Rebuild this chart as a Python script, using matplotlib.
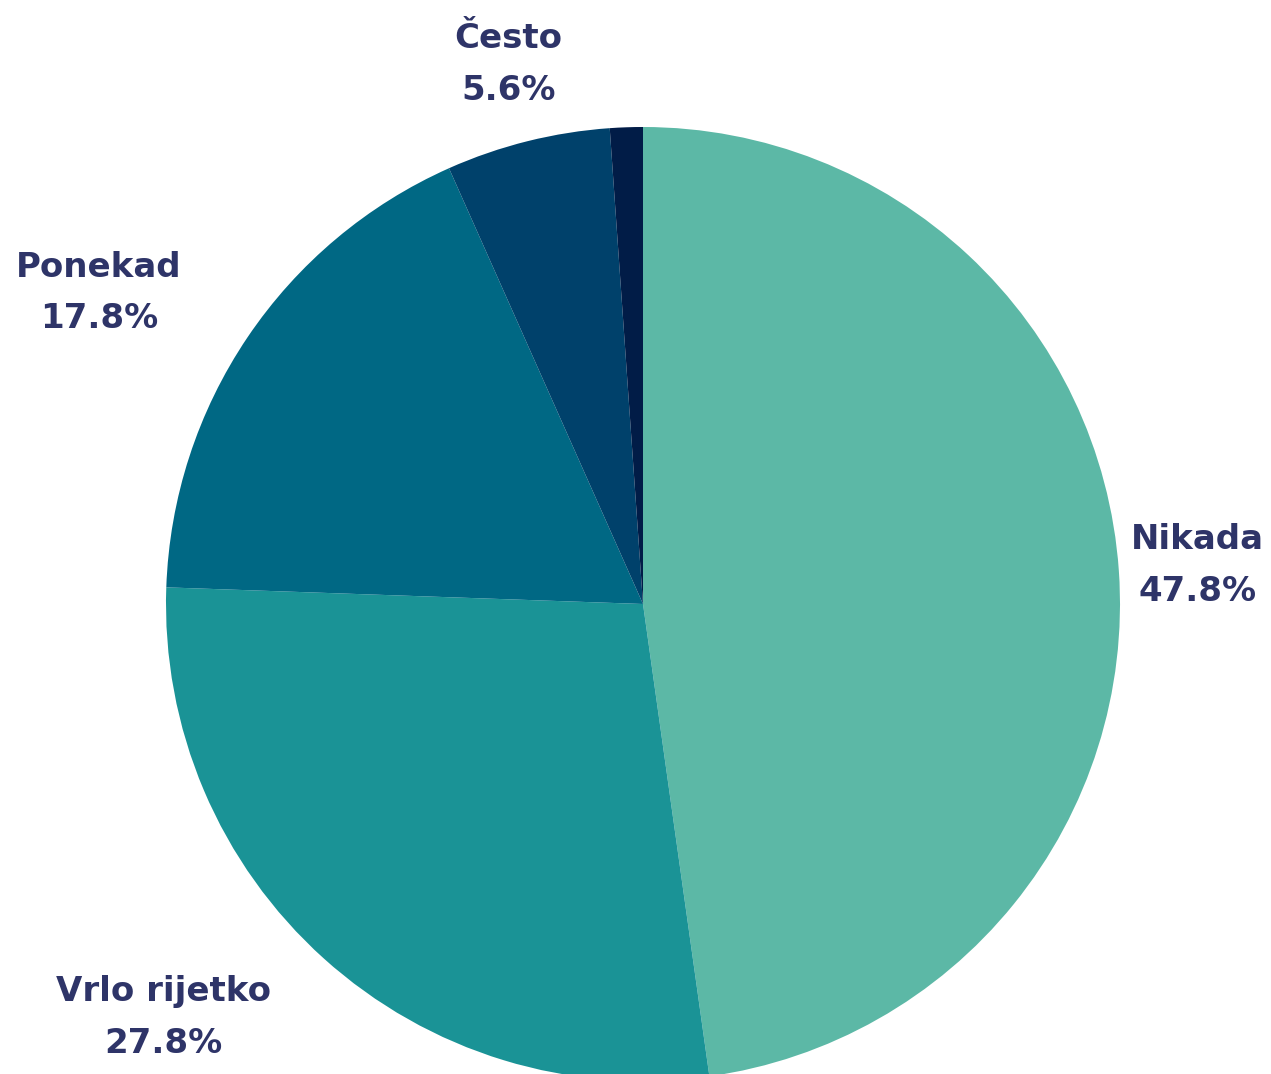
import numpy as np
import matplotlib
matplotlib.use("Agg")
import matplotlib.pyplot as plt

categories = ["Nikada", "Vrlo rijetko", "Ponekad", "Često", "Uvijek"]
counts = [43, 25, 16, 5, 1]
colors = ["#5cb8a6", "#1a9396", "#006884", "#00416b", "#011c47"]
text_color = "#2e3468"

W, H = 1271, 1074
fig = plt.figure(figsize=(W / 100, H / 100), dpi=100)
ax = fig.add_axes([0, 0, 1, 1])

cx, cy, R = 643, H - 604, 477
wedges, _ = ax.pie(counts, colors=colors, startangle=90, counterclock=False,
                   radius=R, center=(cx, cy), frame=True,
                   wedgeprops=dict(linewidth=0))
ax.set_xlim(0, W)
ax.set_ylim(0, H)
ax.set_aspect("equal")
ax.axis("off")

total = sum(counts)
for w, name, c in zip(wedges, categories, counts):
    pct = 100 * c / total
    if pct < 2:
        continue
    mid = np.deg2rad((w.theta1 + w.theta2) / 2)
    r = R * 1.166
    x = cx + r * np.cos(mid)
    y = cy + r * np.sin(mid)
    ha = "right" if np.cos(mid) < -0.5 else "center"
    ax.text(x, y, f"{name}\n{pct:.1f}%", ha=ha, va="center", ma="center",
            fontsize=24.5, fontweight="bold", color=text_color,
            family=["DejaVu Sans"], linespacing=1.72)

fig.savefig("out.png", dpi=100)
